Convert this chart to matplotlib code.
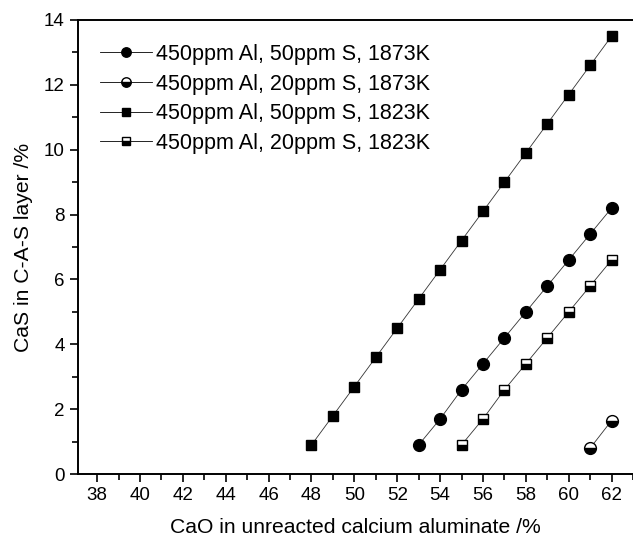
import matplotlib
matplotlib.use('Agg')
import matplotlib.pyplot as plt
from matplotlib.ticker import MultipleLocator

plt.rcParams['font.family'] = ['Liberation Sans', 'DejaVu Sans']

# CaO in unreacted calcium aluminate (%) vs CaS in C-A-S layer (%)
x_50s_1873 = [53, 54, 55, 56, 57, 58, 59, 60, 61, 62]
y_50s_1873 = [0.9, 1.7, 2.6, 3.4, 4.2, 5.0, 5.8, 6.6, 7.4, 8.2]

x_20s_1873 = [61, 62]
y_20s_1873 = [0.8, 1.65]

x_50s_1823 = [48, 49, 50, 51, 52, 53, 54, 55, 56, 57, 58, 59, 60, 61, 62]
y_50s_1823 = [0.9, 1.8, 2.7, 3.6, 4.5, 5.4, 6.3, 7.2, 8.1, 9.0, 9.9, 10.8, 11.7, 12.6, 13.5]

x_20s_1823 = [55, 56, 57, 58, 59, 60, 61, 62]
y_20s_1823 = [0.9, 1.7, 2.6, 3.4, 4.2, 5.0, 5.8, 6.6]

labels = ['450ppm Al, 50ppm S, 1873K', '450ppm Al, 20ppm S, 1873K',
          '450ppm Al, 50ppm S, 1823K', '450ppm Al, 20ppm S, 1823K']

fig = plt.figure(figsize=(6.33, 5.4), dpi=100)
ax = fig.add_axes([0.123, 0.122, 0.877, 0.841])

lw = 0.6
ax.plot(x_50s_1873, y_50s_1873, '-', color='#333333', lw=lw, marker='o', ms=8.5,
        mfc='black', mec='black', label=labels[0])
ax.plot(x_20s_1873, y_20s_1873, '-', color='#333333', lw=lw, marker='o', ms=8.5,
        fillstyle='bottom', mfc='black', mfcalt='white', mec='black', label=labels[1])
ax.plot(x_50s_1823, y_50s_1823, '-', color='#333333', lw=lw, marker='s', ms=7.2,
        mfc='black', mec='black', label=labels[2])
ax.plot(x_20s_1823, y_20s_1823, '-', color='#333333', lw=lw, marker='s', ms=7.2,
        fillstyle='bottom', mfc='black', mfcalt='white', mec='black', label=labels[3])

ax.set_xlim(37.1, 63)
ax.set_ylim(0, 14)
ax.xaxis.set_minor_locator(MultipleLocator(1))
ax.yaxis.set_major_locator(MultipleLocator(2))
ax.yaxis.set_minor_locator(MultipleLocator(1))
ax.set_xticks(range(38, 63, 2))
ax.tick_params(which='major', direction='out', length=6, width=1.2, labelsize=13.5)
ax.tick_params(which='minor', direction='out', length=4, width=1.2)
ax.spines['right'].set_visible(False)
for s in ['left', 'bottom', 'top']:
    ax.spines[s].set_linewidth(1.4)

ax.set_xlabel('CaO in unreacted calcium aluminate /%', fontsize=15.2, labelpad=10)
ax.set_ylabel('CaS in C-A-S layer /%', fontsize=15.2, labelpad=8)

leg = ax.legend(loc='upper left', frameon=False, fontsize=15.5, handlelength=2.4,
                handletextpad=0.2, labelspacing=0.4, bbox_to_anchor=(0.005, 0.99),
                markerscale=0.8)
for h in leg.get_lines():
    h.set_color('black')

fig.savefig('out.png', dpi=100)
